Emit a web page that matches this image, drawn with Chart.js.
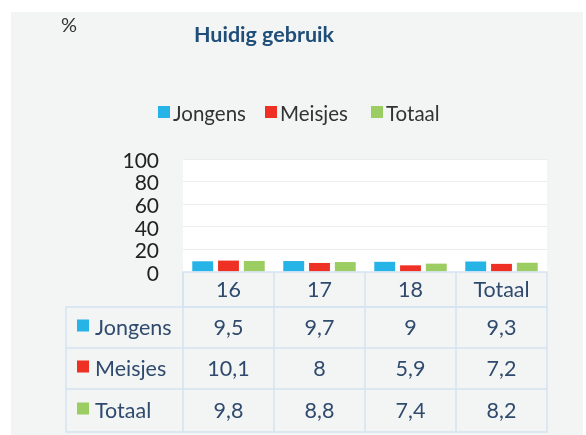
<!DOCTYPE html>
<html>
<head>
<meta charset="utf-8">
<script src="https://cdn.jsdelivr.net/npm/chart.js@4.4.1/dist/chart.umd.min.js"></script>
<style>
  html, body { margin: 0; padding: 0; background: #fff; }
  #wrap { width: 586px; height: 435px; }
</style>
</head>
<body>
<div id="wrap"><canvas id="chart" width="586" height="435"></canvas></div>
<script>
const categories = ['16', '17', '18', 'Totaal'];
const jongens = [9.5, 9.7, 9, 9.3];
const meisjes = [10.1, 8, 5.9, 7.2];
const totaal = [9.8, 8.8, 7.4, 8.2];
const yMax = 100;
const yStep = 20;

const FONT = 'Lato, "Open Sans", sans-serif';
const TABLE_TEXT = '#2f4a6d';
const BORDER = '#d4e3f2';

// background panel, plot area, title, legend and data table
const decor = {
  id: 'decor',
  beforeDraw(chart) {
    const ctx = chart.ctx;
    const a = chart.chartArea;
    ctx.save();
    ctx.fillStyle = '#ffffff';
    ctx.fillRect(0, 0, chart.width, chart.height);
    ctx.fillStyle = '#f3f4f4';
    ctx.fillRect(11, 12, 572, 423);
    ctx.fillStyle = '#ffffff';
    ctx.fillRect(a.left, a.top, a.right - a.left, a.bottom - a.top);

    ctx.fillStyle = '#333';
    ctx.font = '20px ' + FONT;
    ctx.textBaseline = 'middle';
    ctx.textAlign = 'left';
    ctx.fillText('%', 61, 26);

    ctx.fillStyle = '#1f4e79';
    ctx.font = 'bold 21.5px ' + FONT;
    ctx.textAlign = 'center';
    ctx.fillText('Huidig gebruik', 264, 35);

    // legend
    const legendX = [158, 265, 371];
    ctx.font = '20.5px ' + FONT;
    ctx.textAlign = 'left';
    chart.data.datasets.forEach((ds, i) => {
      ctx.fillStyle = ds.backgroundColor;
      ctx.fillRect(legendX[i], 106, 12, 12);
      ctx.fillStyle = '#333';
      ctx.fillText(ds.label, legendX[i] + 15, 114);
    });
    ctx.restore();
  },
  afterDraw(chart) {
    const ctx = chart.ctx;
    const x = chart.scales.x;
    const a = chart.chartArea;
    const colW = (a.right - a.left) / categories.length;
    const top = a.bottom;
    const rows = [top, top + 35, top + 76, top + 117, top + 160];
    const labelLeft = 66;

    ctx.save();
    ctx.strokeStyle = BORDER;
    ctx.lineWidth = 1.5;
    // header cells
    ctx.strokeRect(a.left, rows[0], a.right - a.left, rows[1] - rows[0]);
    categories.forEach((c, i) => {
      const l = x.getPixelForValue(i) - colW / 2;
      ctx.beginPath();
      ctx.moveTo(l, rows[0]);
      ctx.lineTo(l, rows[4]);
      ctx.stroke();
    });
    // body rows
    ctx.strokeRect(labelLeft, rows[1], a.right - labelLeft, rows[4] - rows[1]);
    [rows[2], rows[3]].forEach(y => {
      ctx.beginPath();
      ctx.moveTo(labelLeft, y);
      ctx.lineTo(a.right, y);
      ctx.stroke();
    });

    ctx.fillStyle = TABLE_TEXT;
    ctx.font = '21.5px ' + FONT;
    ctx.textBaseline = 'middle';
    ctx.textAlign = 'center';
    categories.forEach((c, i) => {
      ctx.fillText(c, x.getPixelForValue(i), (rows[0] + rows[1]) / 2 + 1);
    });
    chart.data.datasets.forEach((ds, r) => {
      const cy = (rows[r + 1] + rows[r + 2]) / 2 + 1;
      ctx.fillStyle = ds.backgroundColor;
      ctx.fillRect(77, cy - 9, 12, 12);
      ctx.fillStyle = TABLE_TEXT;
      ctx.textAlign = 'left';
      ctx.fillText(ds.label, 95, cy);
      ctx.textAlign = 'center';
      ds.data.forEach((v, i) => {
        ctx.fillText(String(v).replace('.', ','), x.getPixelForValue(i), cy);
      });
    });
    ctx.restore();
  }
};

new Chart(document.getElementById('chart'), {
  type: 'bar',
  data: {
    labels: categories,
    datasets: [
      { label: 'Jongens', data: jongens, backgroundColor: '#26b4e6' },
      { label: 'Meisjes', data: meisjes, backgroundColor: '#ee3124' },
      { label: 'Totaal', data: totaal, backgroundColor: '#9ccd62' }
    ]
  },
  options: {
    responsive: false,
    animation: false,
    layout: { padding: { top: 159, right: 39, bottom: 163, left: 0 } },
    datasets: { bar: { categoryPercentage: 0.85, barPercentage: 0.81 } },
    plugins: {
      legend: { display: false },
      title: { display: false },
      tooltip: { enabled: false }
    },
    scales: {
      x: { display: false },
      y: {
        min: 0,
        max: yMax,
        afterFit: (scale) => { scale.width = 183; },
        grid: { color: '#ececec', drawTicks: false },
        border: { display: false },
        ticks: {
          stepSize: yStep,
          autoSkip: false,
          padding: 24,
          labelOffset: 2,
          color: '#222',
          font: { family: FONT, size: 21 }
        }
      }
    }
  },
  plugins: [decor]
});
</script>
</body>
</html>
